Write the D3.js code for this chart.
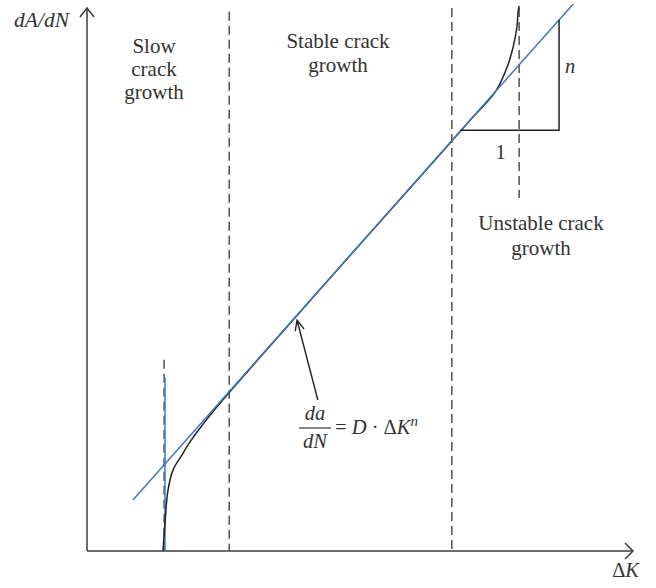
<!DOCTYPE html>
<html>
<head>
<meta charset="utf-8">
<script src="https://cdn.jsdelivr.net/npm/d3@7"></script>
<style>
  html, body { margin: 0; padding: 0; background: #fff; }
  svg { display: block; }
  text { font-family: "Liberation Serif", "DejaVu Serif", serif; fill: #333; }
</style>
</head>
<body>
<svg id="chart" width="656" height="588"></svg>
<script>
// Fatigue crack growth rate vs. stress intensity range (log-log, schematic units)
const regionBounds = [1.41, 2.60, 6.67, 7.90];      // ΔK positions of the dashed region limits
const regionTop    = [3.52, 9.93, 10.0, 10.0];      // upper end of each dashed line
const regionBottom = [0, 0, 0, 6.50];               // lower end of each dashed line

const regionLabels = [
  ["Slow", "crack", "growth"],
  ["Stable crack", "growth"],
  ["Unstable crack", "growth"]
];

// Paris-law straight line endpoints [log ΔK, log da/dN]
const parisLine = [[0.84, 0.94], [8.885, 10.07]];
// Threshold ΔK_th
const thresholdLine = [[1.426, 0], [1.426, 3.19]];

// Growth curve
const growthCurve = [
  [1.389, 0.00], [1.408, 0.28], [1.426, 0.52], [1.481, 1.12], [1.572, 1.49],
  [1.737, 1.77], [1.883, 2.01], [2.25, 2.50], [3.0, 3.38], [4.0, 4.52],
  [5.0, 5.66], [6.0, 6.79], [7.0, 7.93], [7.46, 8.45], [7.68, 8.91],
  [7.79, 9.28], [7.86, 9.65], [7.88, 9.91], [7.90, 10.04]
];

// Slope triangle: run from x0 to x1 at height y0, rise to y1
const slopeTriangle = { x0: 6.82, x1: 8.63, y0: 7.75, y1: 9.78 };

// Pointer from the formula to the Paris line
const pointer = { from: [4.22, 2.78], to: [3.84, 4.25] };

const svg = d3.select("#chart");
const x = d3.scaleLinear().domain([0, 10]).range([87, 634]);
const y = d3.scaleLinear().domain([0, 10]).range([551, 8]);

const axisColor = "#3c3c3c";
const blue = "#3d78c2";
const fs = 20.5;

// Dashed region limits
svg.append("g").selectAll("line").data(regionBounds).join("line")
  .attr("x1", d => x(d)).attr("x2", d => x(d))
  .attr("y1", (d, i) => y(regionTop[i])).attr("y2", (d, i) => y(regionBottom[i]))
  .attr("stroke", "#444").attr("stroke-width", 1.4).attr("stroke-dasharray", "9,5");

// Axes with open arrowheads
const axes = svg.append("g").attr("stroke", axisColor).attr("stroke-width", 1.5).attr("fill", "none");
axes.append("line").attr("x1", x(0)).attr("y1", y(0)).attr("x2", x(0)).attr("y2", y(10));
axes.append("line").attr("x1", x(0)).attr("y1", y(0)).attr("x2", x(10) - 1).attr("y2", y(0));
axes.append("path").attr("d", `M${x(0) - 7},${y(10) + 9} L${x(0)},${y(10)} L${x(0) + 7},${y(10) + 9}`);
axes.append("path").attr("d", `M${x(10) - 9},${y(0) - 8} L${x(10) - 1},${y(0)} L${x(10) - 9},${y(0) + 8}`);

const straight = d3.line().x(d => x(d[0])).y(d => y(d[1]));
const smooth = d3.line().x(d => x(d[0])).y(d => y(d[1])).curve(d3.curveCatmullRom.alpha(0.5));

// Threshold line
svg.append("path").datum(thresholdLine).attr("d", straight)
  .attr("fill", "none").attr("stroke", blue).attr("stroke-width", 1.5);

// Growth curve
svg.append("path").datum(growthCurve).attr("d", smooth)
  .attr("fill", "none").attr("stroke", "#222").attr("stroke-width", 1.5);

// Paris line
svg.append("path").datum(parisLine).attr("d", straight)
  .attr("fill", "none").attr("stroke", blue).attr("stroke-width", 1.5);

// Slope triangle
const t = slopeTriangle;
svg.append("path")
  .attr("d", `M${x(t.x0)},${y(t.y0)} L${x(t.x1)},${y(t.y0)} L${x(t.x1)},${y(t.y1)}`)
  .attr("fill", "none").attr("stroke", "#222").attr("stroke-width", 1.5);
svg.append("text").attr("x", x(t.x1) + 6).attr("y", y((t.y0 + t.y1) / 2) - 2)
  .attr("font-size", fs).attr("font-style", "italic").text("n");
svg.append("text").attr("x", x((t.x0 + t.x1) / 2) - 9).attr("y", y(t.y0) + 29)
  .attr("text-anchor", "middle").attr("font-size", fs).text("1");

// Pointer arrow
const px0 = x(pointer.from[0]), py0 = y(pointer.from[1]);
const px1 = x(pointer.to[0]), py1 = y(pointer.to[1]);
const ang = Math.atan2(py0 - py1, px0 - px1);
const head = 11, spread = 0.42;
svg.append("path")
  .attr("d", `M${px0},${py0} L${px1},${py1} M${px1 + head * Math.cos(ang - spread)},${py1 + head * Math.sin(ang - spread)} L${px1},${py1} L${px1 + head * Math.cos(ang + spread)},${py1 + head * Math.sin(ang + spread)}`)
  .attr("fill", "none").attr("stroke", "#222").attr("stroke-width", 1.4);

// Region labels
const labelAnchors = [[154, 53], [338, 48], [541, 230]];
const lineGap = [23, 24, 25];
regionLabels.forEach((lines, i) => {
  const g = svg.append("text").attr("text-anchor", "middle").attr("font-size", fs + 0.5);
  lines.forEach((s, j) => {
    g.append("tspan").attr("x", labelAnchors[i][0]).attr("y", labelAnchors[i][1] + j * lineGap[i]).text(s);
  });
});

// Axis titles
svg.append("text").attr("x", 69).attr("y", 27).attr("text-anchor", "end")
  .attr("font-size", fs + 1).attr("font-style", "italic").text("dA/dN");
const dk = svg.append("text").attr("x", 639).attr("y", 577).attr("text-anchor", "end").attr("font-size", fs);
dk.append("tspan").text("Δ");
dk.append("tspan").attr("font-style", "italic").text("K");

// Paris-law formula
const f = svg.append("g");
f.append("text").attr("x", 315).attr("y", 420).attr("text-anchor", "middle")
  .attr("font-size", fs).attr("font-style", "italic").text("da");
f.append("line").attr("x1", 299).attr("x2", 331).attr("y1", 428).attr("y2", 428)
  .attr("stroke", "#444").attr("stroke-width", 1.3);
f.append("text").attr("x", 315).attr("y", 448).attr("text-anchor", "middle")
  .attr("font-size", fs).attr("font-style", "italic").text("dN");
const rhs = f.append("text").attr("x", 335).attr("y", 434).attr("font-size", fs);
rhs.append("tspan").text("= ");
rhs.append("tspan").attr("font-style", "italic").text("D");
rhs.append("tspan").text(" · Δ");
rhs.append("tspan").attr("font-style", "italic").text("K");
rhs.append("tspan").attr("font-style", "italic").attr("font-size", 15).attr("dy", -8).text("n");
</script>
</body>
</html>
